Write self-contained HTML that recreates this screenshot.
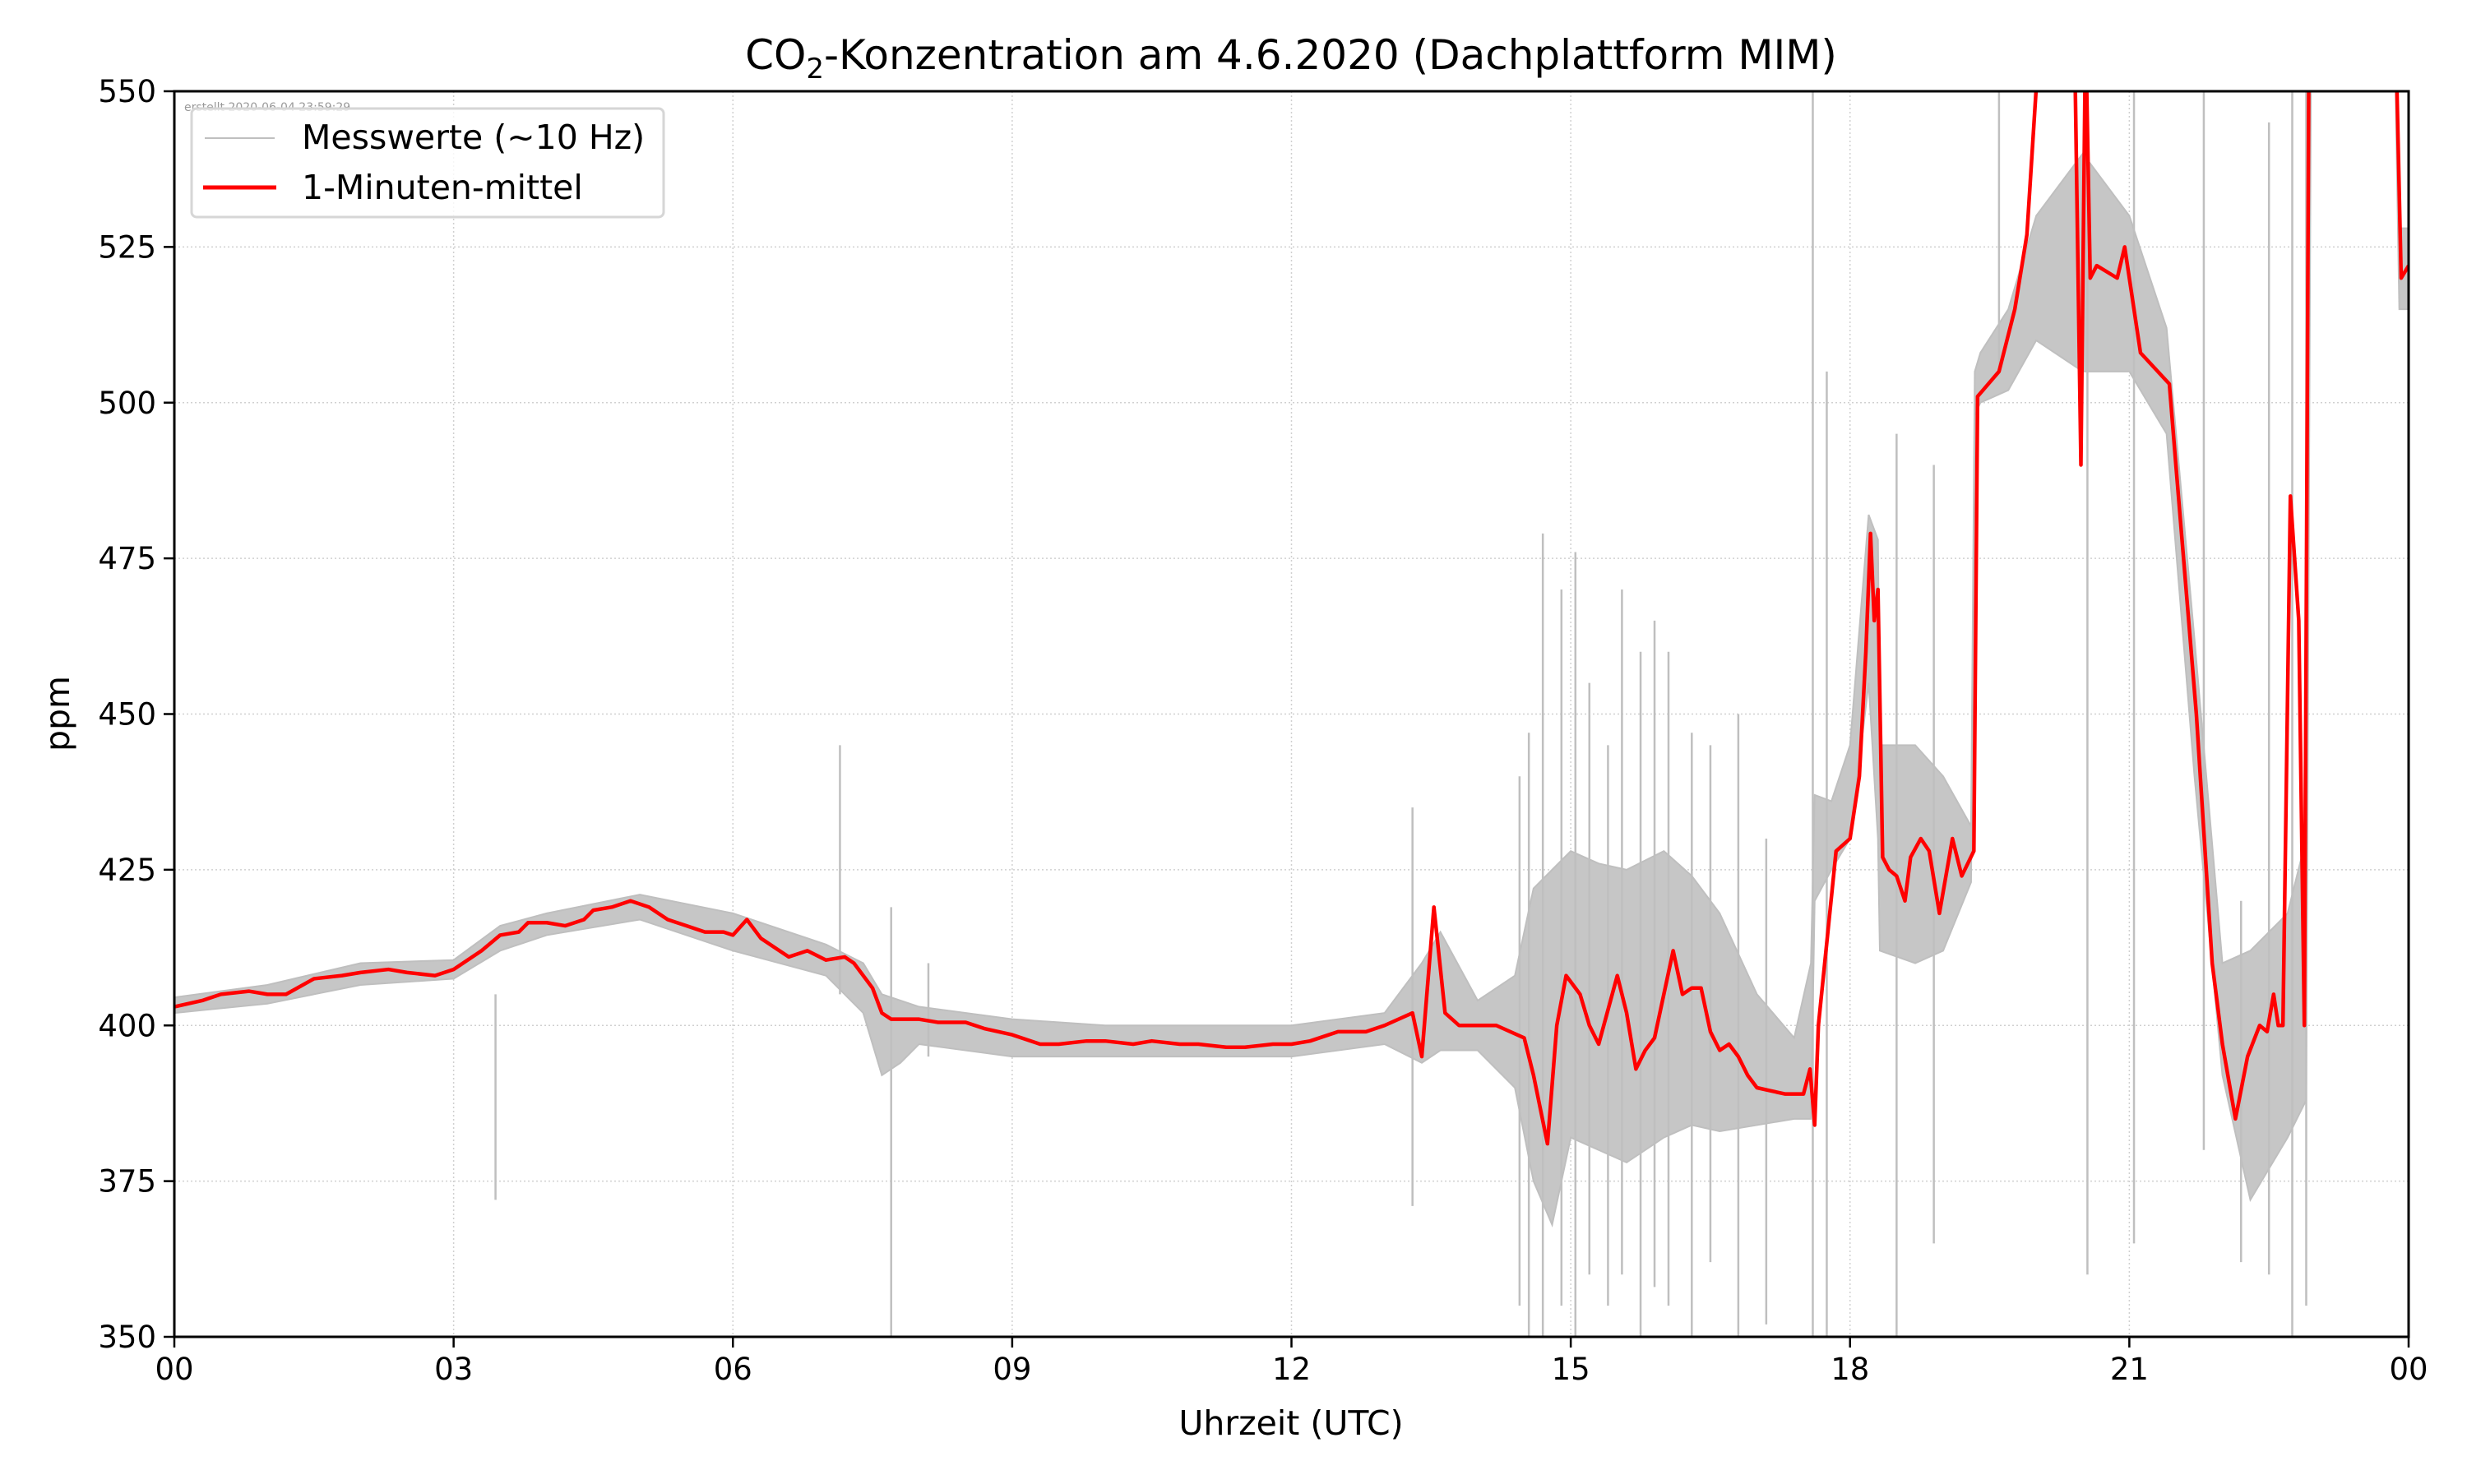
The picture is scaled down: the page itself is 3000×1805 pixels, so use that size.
<!DOCTYPE html>
<html><head><meta charset="utf-8">
<style>
html,body{margin:0;padding:0;background:#fff;}
svg text{font-family:"DejaVu Sans","Liberation Sans",sans-serif;fill:#000;}
</style></head>
<body>
<svg id="chart" width="3000" height="1800" viewBox="0 0 3000 1800" xmlns="http://www.w3.org/2000/svg">
<rect width="3000" height="1800" fill="#fff"/>
<text x="1570" y="84" font-size="50" text-anchor="middle">CO<tspan font-size="34" dy="11">2</tspan><tspan dy="-11">-Konzentration am 4.6.2020 (Dachplattform MIM)</tspan></text>
<g id="grid"></g>
<g id="gray"></g>
<g id="red"></g>
<rect x="212" y="111" width="2717" height="1515" fill="none" stroke="#000" stroke-width="3"/>
<g id="axes"></g>
<text x="1570" y="1745" font-size="41" text-anchor="middle">Uhrzeit (UTC)</text>
<text transform="translate(84,868) rotate(-90)" font-size="41" text-anchor="middle">ppm</text>
<text x="224" y="135" font-size="14" style="fill:#999">erstellt 2020-06-04 23:59:29</text>
<g>
<rect x="233" y="132" width="574" height="132" rx="6" fill="#fff" fill-opacity="0.8" stroke="#d6d6d6" stroke-width="3"/>
<line x1="249" y1="168" x2="334" y2="168" stroke="#bfbfbf" stroke-width="2"/>
<text x="367" y="181" font-size="41">Messwerte (~10 Hz)</text>
<line x1="247" y1="228" x2="336" y2="228" stroke="#f00" stroke-width="5"/>
<text x="367" y="242" font-size="41">1-Minuten-mittel</text>
</g>
</svg>
<script>
const xTicks=[0,3,6,9,12,15,18,21,24];
const xTickLabels=["00","03","06","09","12","15","18","21","00"];
const yTicks=[350,375,400,425,450,475,500,525,550];
// 1-minute mean (hours, ppm)
const redT=[0,0.3,0.5,0.8,1,1.2,1.5,1.8,2,2.3,2.5,2.8,3,3.3,3.5,3.7,3.8,4.0,4.2,4.4,4.5,4.7,4.9,5.1,5.3,5.5,5.7,5.9,6,6.15,6.3,6.5,6.6,6.8,7,7.2,7.3,7.5,7.6,7.7,7.9,8,8.2,8.5,8.7,9,9.3,9.5,9.8,10,10.3,10.5,10.8,11,11.3,11.5,11.8,12,12.2,12.5,12.8,13,13.3,13.4,13.53,13.65,13.8,14.2,14.5,14.6,14.75,14.85,14.95,15.1,15.2,15.3,15.5,15.6,15.7,15.8,15.9,16.1,16.2,16.3,16.4,16.5,16.6,16.7,16.8,16.9,17,17.15,17.3,17.5,17.57,17.62,17.66,17.85,18,18.1,18.17,18.22,18.26,18.3,18.35,18.42,18.5,18.59,18.65,18.76,18.85,18.96,19.1,19.2,19.33,19.37,19.6,19.77,19.9,20.04,20.41,20.48,20.53,20.58,20.65,20.87,20.95,21.12,21.43,21.5,21.72,21.89,22,22.14,22.27,22.4,22.48,22.55,22.6,22.65,22.73,22.82,22.88,22.93,23.86,23.92,24];
const redV=[403,404,405,405.5,405,405,407.5,408,408.5,409,408.5,408,409,412,414.5,415,416.5,416.5,416,417,418.5,419,420,419,417,416,415,415,414.5,417,414,412,411,412,410.5,411,410,406,402,401,401,401,400.5,400.5,399.5,398.5,397,397,397.5,397.5,397,397.5,397,397,396.5,396.5,397,397,397.5,399,399,400,402,395,419,402,400,400,398,392,381,400,408,405,400,397,408,402,393,396,398,412,405,406,406,399,396,397,395,392,390,389.5,389,389,393,384,400,428,430,440,460,479,465,470,427,425,424,420,427,430,428,418,430,424,428,501,505,515,527,560,560,490,560,520,522,520,525,508,503,490,450,410,397,385,395,400,399,405,400,400,485,465,400,560,560,520,522];
// measurement envelope (hours, low, high)
const grayT=[0,1,2,3,3.5,4,5,6,7,7.4,7.6,7.8,8,9,10,11,12,13,13.4,13.6,14,14.4,14.6,14.8,15,15.3,15.6,16,16.3,16.6,17,17.4,17.58,17.62,17.8,18,18.2,18.3,18.32,18.7,19,19.3,19.34,19.4,19.7,20,20.5,21,21.4,21.7,22,22.3,22.7,22.9,22.95,23.86,23.9,24];
const grayLo=[402,403.5,406.5,407.5,412,414.5,417,412,408,402,392,394,397,395,395,395,395,397,394,396,396,390,375,368,382,380,378,382,384,383,384,385,385,420,425,430,455,430,412,410,412,423,498,500,502,510,505,505,495,440,392,372,382,388,550,550,515,515];
const grayHi=[404.5,406.5,410,410.5,416,418,421,418,413,410,405,404,403,401,400,400,400,402,410,415,404,408,422,425,428,426,425,428,424,418,405,398,410,437,436,445,482,478,445,445,440,432,505,508,515,530,540,530,512,462,410,412,418,430,550,550,528,528];
// isolated spikes (hours, low, high)
const spikeT=[3.45,7.15,7.7,8.1,13.3,14.45,14.55,14.7,14.9,15.05,15.2,15.4,15.55,15.75,15.9,16.05,16.3,16.5,16.8,17.1,17.6,17.75,18.5,18.9,19.6,20.55,21.05,21.8,22.2,22.5,22.75,22.9];
const spikeLo=[372,405,350,395,371,355,350,350,355,350,360,355,360,350,358,355,350,362,350,352,350,350,350,365,505,360,365,380,362,360,350,355];
const spikeHi=[405,445,419,410,435,440,447,479,470,476,455,445,470,460,465,460,447,445,450,430,550,505,495,490,550,550,550,550,420,545,550,550];
const X0=212,X1=2929,Y0=111,Y1=1626;
const xs=t=>X0+(t/24)*(X1-X0);
const ys=v=>Y1-((v-350)/200)*(Y1-Y0);
const NS="http://www.w3.org/2000/svg";
function mk(tag,attrs,parent){const e=document.createElementNS(NS,tag);for(const k in attrs)e.setAttribute(k,attrs[k]);parent.appendChild(e);return e;}
const grid=document.getElementById('grid'),axes=document.getElementById('axes');
xTicks.forEach((t,i)=>{
 const gl=mk('line',{x1:xs(t),x2:xs(t),y1:Y0,y2:Y1,stroke:'#d0d0d0','stroke-width':1.5,'stroke-dasharray':'2,3'},grid);
 
 
 const tk=mk('line',{x1:xs(t),x2:xs(t),y1:Y1,y2:Y1+13,stroke:'#000','stroke-width':2.5},axes);
 
 
 const tx=mk('text',{x:xs(t),y:Y1+52,'font-size':37,'text-anchor':'middle'},axes);
 tx.textContent=xTickLabels[i];
 
 
});
yTicks.forEach(v=>{
 const gl=mk('line',{x1:X0,x2:X1,y1:ys(v),y2:ys(v),stroke:'#d0d0d0','stroke-width':1.5,'stroke-dasharray':'2,3'},grid);
 
 
 const tk=mk('line',{x1:X0-13,x2:X0,y1:ys(v),y2:ys(v),stroke:'#000','stroke-width':2.5},axes);
 
 
 const tx=mk('text',{x:X0-22,y:ys(v)+13,'font-size':37,'text-anchor':'end'},axes);
 tx.textContent=String(v);
 
 
});
const gray=document.getElementById('gray');
const clip=mk('clipPath',{id:'pc'},document.getElementById('chart'));
mk('rect',{x:X0,y:Y0,width:X1-X0,height:Y1-Y0},clip);
gray.setAttribute('clip-path','url(#pc)');
let pts=grayT.map((t,i)=>xs(t)+','+ys(grayHi[i]));
for(let i=grayT.length-1;i>=0;i--)pts.push(xs(grayT[i])+','+ys(grayLo[i]));
const band=mk('polygon',{points:pts.join(' '),fill:'#c6c6c6',stroke:'#bfbfbf','stroke-width':2},gray);


spikeT.forEach((t,i)=>{
 const s=mk('line',{x1:xs(t),x2:xs(t),y1:ys(spikeLo[i]),y2:ys(spikeHi[i]),stroke:'#bfbfbf','stroke-width':2.5},gray);
 
 
});
const red=document.getElementById('red');
red.setAttribute('clip-path','url(#pc)');
const rl=mk('polyline',{points:redT.map((t,i)=>xs(t)+','+ys(redV[i])).join(' '),fill:'none',stroke:'#f00','stroke-width':4.5,'stroke-linejoin':'round'},red);


</script>
</body></html>
